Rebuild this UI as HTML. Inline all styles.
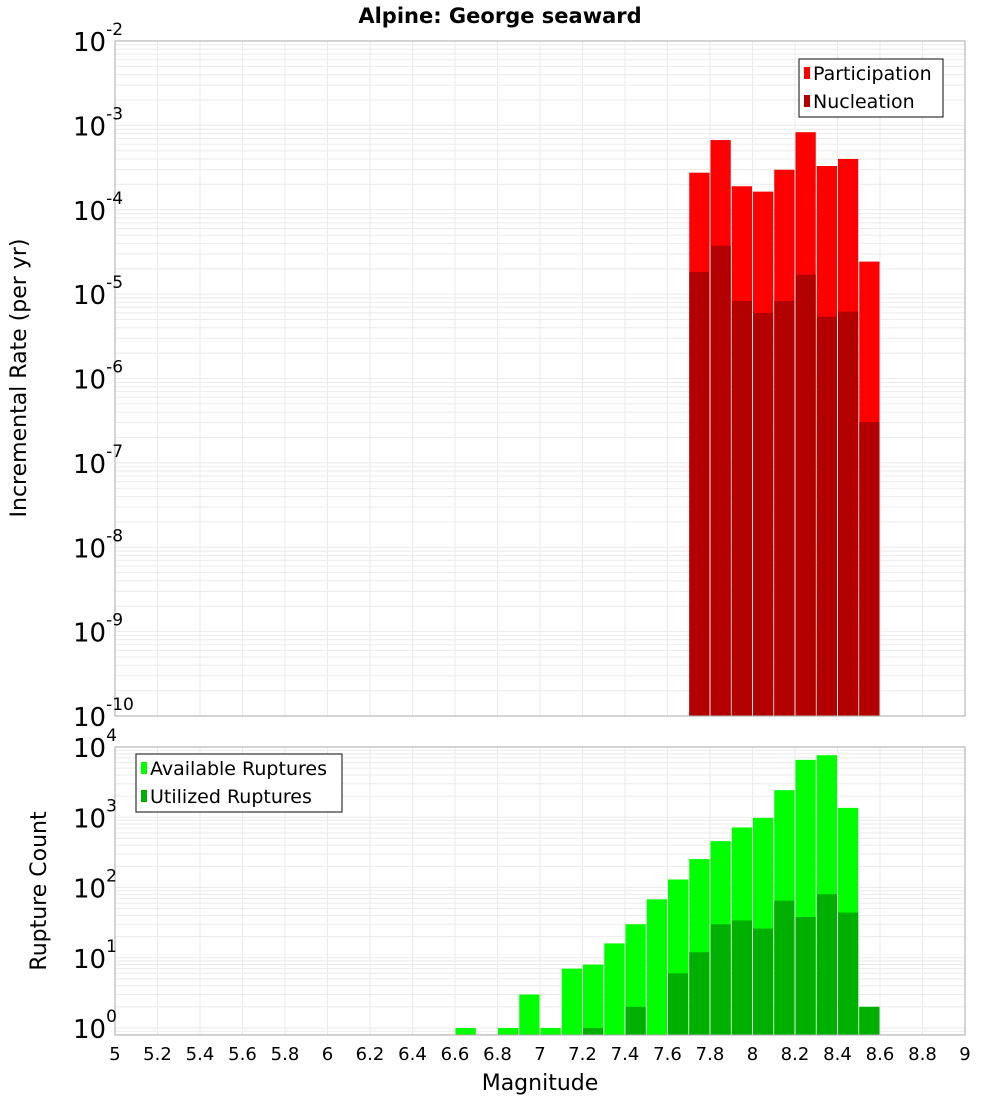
<!DOCTYPE html>
<html><head><meta charset="utf-8"><style>
body{margin:0;background:#fff;font-family:"Liberation Sans","DejaVu Sans",sans-serif}
svg text{font-family:"DejaVu Sans","Liberation Sans",sans-serif}
</style></head><body>
<svg id="chart" width="1000" height="1100" xmlns="http://www.w3.org/2000/svg">
<text x="500" y="23" text-anchor="middle" font-size="21" font-weight="bold">Alpine: George seaward</text>
<g id="top"></g><g id="bot"></g>
<text transform="translate(26,378) rotate(-90)" text-anchor="middle" font-size="22">Incremental Rate (per yr)</text>
<text transform="translate(46,891) rotate(-90)" text-anchor="middle" font-size="22">Rupture Count</text>
<text x="540" y="1090" text-anchor="middle" font-size="22">Magnitude</text>
</svg>
<script>
const topCats=[7.7,7.8,7.9,8.0,8.1,8.2,8.3,8.4,8.5];
const participation=[2.75e-4,6.7e-4,1.9e-4,1.64e-4,2.98e-4,8.3e-4,3.3e-4,4.0e-4,2.43e-5];
const nucleation=[1.83e-5,3.75e-5,8.3e-6,6.0e-6,8.3e-6,1.7e-5,5.4e-6,6.2e-6,3.05e-7];
const botCats=[6.6,6.7,6.8,6.9,7.0,7.1,7.2,7.3,7.4,7.5,7.6,7.7,7.8,7.9,8.0,8.1,8.2,8.3,8.4,8.5];
const available=[1,0,1,3,1,7,8,16,30,68,130,254,457,716,980,2430,6560,7640,1360,2];
const utilized=[0,0,0,0,0,0,1,0,2,0,6,12,30,34,26,65,38,80,44,2];
const xTicks=[5,5.2,5.4,5.6,5.8,6,6.2,6.4,6.6,6.8,7,7.2,7.4,7.6,7.8,8,8.2,8.4,8.6,8.8,9];
const topExps=[-2,-3,-4,-5,-6,-7,-8,-9,-10];
const botExps=[4,3,2,1,0];
const NS="http://www.w3.org/2000/svg";
const X0=115,X1=965;
const xs=m=>X0+(m-5)/4*(X1-X0);
function mk(p,tag,a){const e=document.createElementNS(NS,tag);for(const k in a)e.setAttribute(k,a[k]);p.appendChild(e);return e;}
function panel(g,top,bot,eTop,eBot,name){
  const ys=v=>top+(eTop-Math.log10(v))/(eTop-eBot)*(bot-top);
  const r=mk(g,'rect',{x:X0,y:top,width:X1-X0,height:bot-top,fill:'#fff',stroke:'none'});
  
  
  for(let e=Math.floor(eBot);e<eTop;e++)for(let k=1;k<10;k++){const v=k*Math.pow(10,e);const y=ys(v);if(y<top-0.1||y>bot+0.1)continue;
    const l=mk(g,'line',{x1:X0,x2:X1,y1:y,y2:y,stroke:'#ebebeb','stroke-width':1});
    
    }
  xTicks.forEach(t=>{const l=mk(g,'line',{x1:xs(t),x2:xs(t),y1:top,y2:bot,stroke:'#ebebeb','stroke-width':1});
    
    });
  return ys;
}
function bars(g,cats,vals,ys,bot,color,name){
  cats.forEach((c,i)=>{if(!vals[i])return;const x=xs(c)+0.5,w=xs(c+0.1)-xs(c)-1,y=ys(vals[i]);
    const b=mk(g,'rect',{x:x,y:y,width:w,height:bot-y,fill:color});
    
    });
}
function ylabels(g,exps,ys,name){
  exps.forEach(e=>{const y=ys(Math.pow(10,e));const t=mk(g,'text',{x:73,y:y+10,'font-size':26});
    
    
    t.textContent='10';const s=mk(t,'tspan',{dy:-16,'font-size':17});s.textContent=String(e);});
}
function legend(g,x,y,w,items,name){
  const b=mk(g,'rect',{x:x,y:y,width:w,height:58,fill:'#fff',stroke:'#333','stroke-width':1.2});
  
  
  items.forEach((it,i)=>{const yy=y+14+i*28;
    const s=mk(g,'rect',{x:x+5,y:yy-6,width:6,height:12,fill:it[1]});
    
    
    const t=mk(g,'text',{x:x+14,y:yy+7,'font-size':19});
    
    
    t.textContent=it[0];});
}
const gt=document.getElementById('top'),gb=document.getElementById('bot');
const T0=41,T1=716;
const yt=panel(gt,T0,T1,-2,-10,'top');
bars(gt,topCats,participation,yt,T1,'#ff0000','participation');
bars(gt,topCats,nucleation,yt,T1,'#b30000','nucleation');
mk(gt,'rect',{x:X0,y:T0,width:X1-X0,height:T1-T0,fill:'none',stroke:'#aaa','stroke-width':1});
ylabels(gt,topExps,yt,'top');
legend(gt,799,59,144,[['Participation','#ff0000'],['Nucleation','#b30000']],'top');
const B0=747,B1=1035;
const yb=panel(gb,B0,B1,4,-0.0996,'bottom');
bars(gb,botCats,available,yb,B1,'#00ff00','available');
bars(gb,botCats,utilized,yb,B1,'#00b000','utilized');
mk(gb,'rect',{x:X0,y:B0,width:X1-X0,height:B1-B0,fill:'none',stroke:'#aaa','stroke-width':1});
ylabels(gb,botExps,yb,'bottom');
legend(gb,136,754,206,[['Available Ruptures','#00ff00'],['Utilized Ruptures','#00b000']],'bottom');
xTicks.forEach(t=>{const e=mk(gb,'text',{x:xs(t),y:1060,'text-anchor':'middle','font-size':18});
  
  
  e.textContent=String(t);});
</script>
</body></html>
